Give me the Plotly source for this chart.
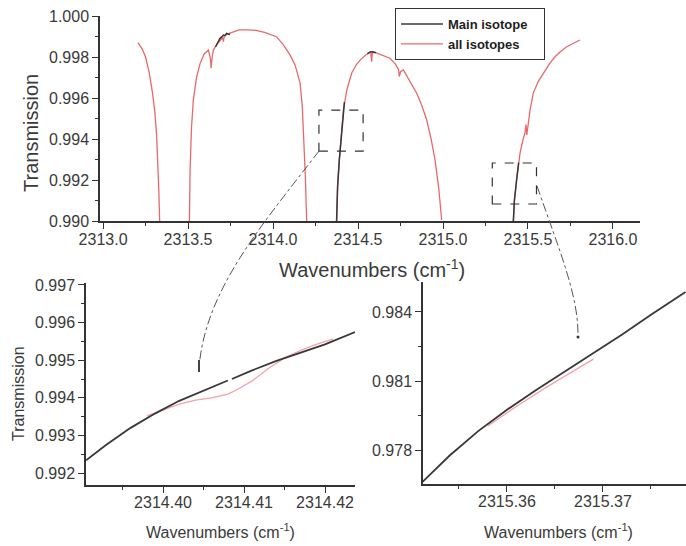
import plotly.graph_objects as go

W, H = 686, 546
FONT = "Liberation Sans, Arial, sans-serif"
TXT = "#3a3a3a"
AX = "#333333"
RED_TOP = "#e8696b"
RED_ZOOM = "#f2a3ab"
BLK = "#383838"

# ---------------- data: overview (all isotopes), segments ----------------
all_x_a = [2313.205, 2313.23, 2313.25, 2313.27, 2313.29, 2313.305, 2313.315, 2313.322, 2313.328, 2313.333]
all_y_a = [0.99870, 0.99840, 0.99800, 0.99730, 0.99630, 0.99530, 0.99420, 0.99300, 0.99150, 0.99000]

all_x_b = [2313.508, 2313.512, 2313.52, 2313.531, 2313.55, 2313.571, 2313.595, 2313.62, 2313.632, 2313.636,
           2313.642, 2313.649, 2313.669, 2313.69, 2313.703, 2313.708, 2313.713, 2313.73, 2313.767,
           2313.80, 2313.85, 2313.90, 2313.95, 2314.02, 2314.06, 2314.10, 2314.13, 2314.159, 2314.172,
           2314.18, 2314.19, 2314.198]
all_y_b = [0.99000, 0.99250, 0.99450, 0.99590, 0.99700, 0.99769, 0.99815, 0.99834, 0.99790, 0.99745,
           0.99800, 0.99834, 0.99860, 0.99885, 0.99895, 0.99875, 0.99900, 0.99912, 0.99924,
           0.99932, 0.99932, 0.99930, 0.99920, 0.99899, 0.99860, 0.99810, 0.99760, 0.99673, 0.99560,
           0.99429, 0.99220, 0.99000]

all_x_c = [2314.374, 2314.38, 2314.39, 2314.404, 2314.414, 2314.434, 2314.463, 2314.49, 2314.512, 2314.545,
           2314.575, 2314.58, 2314.585, 2314.60, 2314.64, 2314.688, 2314.72, 2314.738, 2314.743, 2314.75,
           2314.767, 2314.80, 2314.845, 2314.875, 2314.904, 2314.93, 2314.953, 2314.975, 2314.992]
all_y_c = [0.99000, 0.99170, 0.99298, 0.99444, 0.99541, 0.99639, 0.99722, 0.99762, 0.99785, 0.99810,
           0.99823, 0.99777, 0.99823, 0.99822, 0.99810, 0.99794, 0.99765, 0.99740, 0.99704, 0.99728,
           0.99737, 0.99690, 0.99623, 0.99565, 0.99493, 0.99400, 0.99298, 0.99160, 0.99005]

all_x_d = [2315.414, 2315.42, 2315.433, 2315.453, 2315.47, 2315.482, 2315.488, 2315.493, 2315.512, 2315.531,
           2315.56, 2315.59, 2315.625, 2315.659, 2315.69, 2315.728, 2315.77, 2315.806]
all_y_d = [0.99000, 0.99100, 0.99200, 0.99330, 0.99395, 0.99428, 0.99470, 0.99420, 0.99541, 0.99624,
           0.99680, 0.99722, 0.99765, 0.99801, 0.99826, 0.99850, 0.99868, 0.99883]

# ---------------- data: overview (main isotope), visible segments ----------------
main_x_a = [2313.662, 2313.669, 2313.678, 2313.688, 2313.698, 2313.708, 2313.718, 2313.727, 2313.737, 2313.747]
main_y_a = [0.99850, 0.99862, 0.99875, 0.99891, 0.99898, 0.99907, 0.99905, 0.99915, 0.99912, 0.99910]
main_x_b = [2314.374, 2314.38, 2314.39, 2314.404, 2314.414, 2314.42]
main_y_b = [0.99000, 0.99170, 0.99298, 0.99444, 0.99541, 0.99580]
main_x_c = [2314.555, 2314.575, 2314.585, 2314.605]
main_y_c = [0.99816, 0.99826, 0.99826, 0.99821]
main_x_d = [2315.414, 2315.42, 2315.433, 2315.445]
main_y_d = [0.99000, 0.99100, 0.99200, 0.99285]

# ---------------- data: zoom 1 (left) ----------------
z1_main_x = [2314.3905, 2314.393, 2314.396, 2314.399, 2314.402, 2314.405, 2314.408, None,
             2314.4085, 2314.411, 2314.414, 2314.417, 2314.420, 2314.4237]
z1_main_y = [0.99234, 0.99275, 0.99320, 0.99358, 0.99392, 0.99420, 0.99446, None,
             0.99450, 0.99473, 0.99498, 0.99520, 0.99542, 0.99575]
z1_all_x = [2314.398, 2314.400, 2314.402, 2314.404, 2314.406, 2314.408, 2314.409, 2314.411,
            2314.413, 2314.415, 2314.417, 2314.419, 2314.421]
z1_all_y = [0.99352, 0.99368, 0.99383, 0.99394, 0.99400, 0.99410, 0.99420, 0.99445,
            0.99478, 0.99506, 0.99526, 0.99543, 0.99556]

# ---------------- data: zoom 2 (right) ----------------
z2_main_x = [2315.3512, 2315.354, 2315.357, 2315.360, 2315.363, 2315.366, 2315.369, 2315.372, 2315.375, 2315.3786]
z2_main_y = [0.97661, 0.97775, 0.97882, 0.97975, 0.98060, 0.98140, 0.98220, 0.98302, 0.98388, 0.98487]
z2_all_x = [2315.358, 2315.361, 2315.364, 2315.367, 2315.369]
z2_all_y = [0.97905, 0.97990, 0.98070, 0.98145, 0.98195]

# zoom-region boxes on overview (data units)
box1_x = [2314.27, 2314.53]
box1_y = [0.99341, 0.99541]
box2_x = [2315.29, 2315.55]
box2_y = [0.99083, 0.99283]

fig = go.Figure()

# overview: all isotopes (red)
for i, (xs, ys) in enumerate([(all_x_a, all_y_a), (all_x_b, all_y_b), (all_x_c, all_y_c), (all_x_d, all_y_d)]):
    fig.add_trace(go.Scatter(x=xs, y=ys, mode="lines", line=dict(color=RED_TOP, width=1.3),
                             name="all isotopes\u00a0\u00a0\u00a0", legendgroup="all", showlegend=(i == 0),
                             legendrank=2, xaxis="x", yaxis="y"))
# overview: main isotope (black)
for i, (xs, ys) in enumerate([(main_x_a, main_y_a), (main_x_b, main_y_b), (main_x_c, main_y_c), (main_x_d, main_y_d)]):
    fig.add_trace(go.Scatter(x=xs, y=ys, mode="lines", line=dict(color=BLK, width=1.5),
                             name="Main isotope\u00a0\u00a0\u00a0", legendgroup="main", showlegend=(i == 0),
                             legendrank=1, xaxis="x", yaxis="y"))

# zoom panels
fig.add_trace(go.Scatter(x=z1_all_x, y=z1_all_y, mode="lines", line=dict(color=RED_ZOOM, width=1.3),
                         showlegend=False, xaxis="x2", yaxis="y2"))
fig.add_trace(go.Scatter(x=z1_main_x, y=z1_main_y, mode="lines", line=dict(color=BLK, width=1.8),
                         showlegend=False, xaxis="x2", yaxis="y2"))
fig.add_trace(go.Scatter(x=z2_all_x, y=z2_all_y, mode="lines", line=dict(color=RED_ZOOM, width=1.3),
                         showlegend=False, xaxis="x3", yaxis="y3"))
fig.add_trace(go.Scatter(x=z2_main_x, y=z2_main_y, mode="lines", line=dict(color=BLK, width=1.8),
                         showlegend=False, xaxis="x3", yaxis="y3"))


def px(x):
    return x / W


def py(y):
    return 1 - y / H


def axis(domain, rng, dtick, fmt, minor_dtick, size=16, ticklen=6, standoff=0):
    return dict(domain=domain, range=rng, dtick=dtick, tick0=0, tickformat=fmt, automargin=False,
                showline=True, linecolor=AX, linewidth=1.5, ticks="outside", ticklen=ticklen,
                tickwidth=1.3, tickcolor=AX, showgrid=False, zeroline=False,
                ticklabelstandoff=standoff,
                tickfont=dict(family=FONT, size=size, color=TXT),
                minor=dict(dtick=minor_dtick, tick0=0, ticks="outside", ticklen=3, tickcolor=AX, tickwidth=1),
                fixedrange=True)


fig.update_layout(
    width=W, height=H, margin=dict(l=0, r=0, t=0, b=0, autoexpand=False),
    paper_bgcolor="white", plot_bgcolor="white",
    font=dict(family=FONT, color=TXT),
    xaxis=axis([px(100), px(640)], [2312.982, 2316.159], 0.5, ".1f", 0.25, standoff=-3),
    yaxis=axis([py(221), py(16)], [0.990, 1.000], 0.002, ".3f", 0.001),
    xaxis2=dict(axis([px(86), px(355)], [2314.39049, 2314.4237], 0.01, ".2f", 0.005, standoff=-4), anchor="y2"),
    yaxis2=dict(axis([py(485), py(283)], [0.991681, 0.997053], 0.001, ".3f", 0.0005), anchor="x2"),
    xaxis3=dict(axis([px(423), 1.0], [2315.35125, 2315.37865], 0.01, ".2f", 0.005, standoff=-4), anchor="y3"),
    yaxis3=dict(axis([py(484), py(282)], [0.976522, 0.985304], 0.003, ".3f", 0.0015), anchor="x3"),
    legend=dict(x=px(395), y=py(8), xanchor="left", yanchor="top",
                bgcolor="white", bordercolor=AX, borderwidth=1,
                font=dict(family=FONT, size=13, color="#1e1e1e", weight="bold"),
                tracegroupgap=0, itemwidth=42),
)

# dashed zoom boxes
for bx, by in [(box1_x, box1_y), (box2_x, box2_y)]:
    fig.add_shape(type="rect", xref="x", yref="y", x0=bx[0], x1=bx[1], y0=by[0], y1=by[1],
                  line=dict(color=AX, width=1.2, dash="dash"))


def path(pts):
    (x0, y0), (x1, y1), (x2, y2), (x3, y3) = pts
    return (f"M {px(x0)},{py(y0)} C {px(x1)},{py(y1)} {px(x2)},{py(y2)} {px(x3)},{py(y3)}")


fig.add_shape(type="path", xref="paper", yref="paper",
              path=path([(319, 151), (262, 225), (205, 290), (199, 368)]),
              line=dict(color="#555", width=1, dash="dashdot"))
fig.add_shape(type="path", xref="paper", yref="paper",
              path=path([(537, 186), (560, 252), (578, 295), (578, 334)]),
              line=dict(color="#555", width=1, dash="dashdot"))
fig.add_shape(type="circle", xref="paper", yref="paper",
              x0=px(576.5), x1=px(579.5), y0=py(338.5), y1=py(335.5),
              fillcolor="#333", line=dict(width=0))
fig.add_shape(type="line", xref="paper", yref="paper",
              x0=px(199), x1=px(199), y0=py(360), y1=py(372),
              line=dict(color="#444", width=2))

# axis titles
ann = [
    dict(x=px(372), y=py(268), text="Wavenumbers (cm<sup>-1</sup>)", size=20, angle=0),
    dict(x=px(31), y=py(133), text="Transmission", size=20, angle=-90),
    dict(x=px(220), y=py(531), text="Wavenumbers (cm<sup>-1</sup>)", size=16, angle=0),
    dict(x=px(18), y=py(394), text="Transmission", size=16, angle=-90),
    dict(x=px(558), y=py(531), text="Wavenumbers (cm<sup>-1</sup>)", size=16, angle=0),
]
for a in ann:
    fig.add_annotation(x=a["x"], y=a["y"], xref="paper", yref="paper", text=a["text"],
                       showarrow=False, textangle=a["angle"], xanchor="center", yanchor="middle",
                       font=dict(family=FONT, size=a["size"], color=TXT))

fig.write_html("out.html", config={"displayModeBar": False},
               post_script="document.body.style.margin='0';document.body.style.overflow='hidden';")
